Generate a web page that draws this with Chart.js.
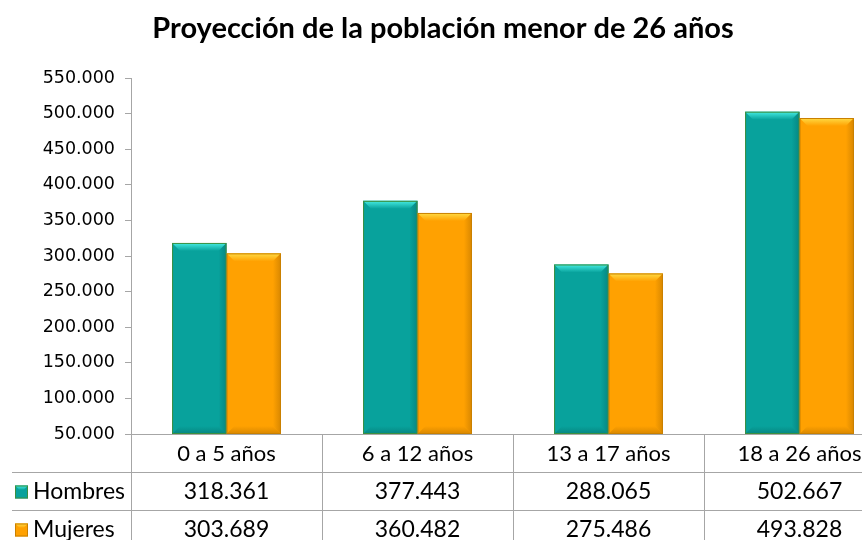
<!DOCTYPE html>
<html>
<head>
<meta charset="utf-8">
<script src="https://cdn.jsdelivr.net/npm/chart.js@4"></script>
<style>
    body { margin: 0; background: #fff; overflow: hidden; }
    #wrap { width: 900px; height: 550px; }
</style>
</head>
<body>
<div id="wrap"><canvas id="chart" width="900" height="550"></canvas></div>
<script>
// datos del gráfico
const titulo = 'Proyección de la población menor de 26 años';
const categorias = ['0 a 5 años', '6 a 12 años', '13 a 17 años', '18 a 26 años'];
const series = ['Hombres', 'Mujeres'];
const hombres = [318361, 377443, 288065, 502667];
const mujeres = [303689, 360482, 275486, 493828];
const yMin = 50000;
const yMax = 550000;
const yPaso = 50000;

// colores
const colores = {
    Hombres: { fill: '#08a29c', border: '#3c8f40', light: '#45ece2', dark: '#05706c' },
    Mujeres: { fill: '#ffa101', border: '#c98000', light: '#ffdc45', dark: '#b87200' }
};
const lineColor = '#a6a6a6';

// separador de miles con punto
function formatNum(n) {
    return String(n).replace(/\B(?=(\d{3})+(?!\d))/g, '.');
}

// bisel de las barras
const bevelPlugin = {
    id: 'bevel',
    afterDatasetsDraw(chart) {
        const ctx = chart.ctx;
        const area = chart.chartArea;
        chart.data.datasets.forEach((ds, di) => {
            const c = colores[ds.label];
            chart.getDatasetMeta(di).data.forEach(bar => {
                const l = bar.x - bar.width / 2, r = bar.x + bar.width / 2;
                const t = bar.y, b = Math.min(bar.base, area.bottom);
                const k = 8;
                ctx.save();
                // cara superior
                let g = ctx.createLinearGradient(0, t, 0, t + k);
                g.addColorStop(0, c.light);
                g.addColorStop(1, c.fill);
                ctx.fillStyle = g;
                ctx.beginPath();
                ctx.moveTo(l, t); ctx.lineTo(r, t); ctx.lineTo(r - k, t + k); ctx.lineTo(l + k, t + k);
                ctx.closePath(); ctx.fill();
                // lado derecho
                g = ctx.createLinearGradient(r - k, 0, r, 0);
                g.addColorStop(0, c.fill);
                g.addColorStop(1, c.dark);
                ctx.globalAlpha = 0.55;
                ctx.fillStyle = g;
                ctx.beginPath();
                ctx.moveTo(r, t); ctx.lineTo(r, b); ctx.lineTo(r - k, b - k); ctx.lineTo(r - k, t + k);
                ctx.closePath(); ctx.fill();
                // lado inferior
                g = ctx.createLinearGradient(0, b - k, 0, b);
                g.addColorStop(0, c.fill);
                g.addColorStop(1, c.dark);
                ctx.fillStyle = g;
                ctx.beginPath();
                ctx.moveTo(l, b); ctx.lineTo(r, b); ctx.lineTo(r - k, b - k); ctx.lineTo(l + k, b - k);
                ctx.closePath(); ctx.fill();
                ctx.globalAlpha = 1;
                ctx.strokeStyle = c.border;
                ctx.lineWidth = 1;
                ctx.strokeRect(l + 0.5, t + 0.5, bar.width - 1, b - t - 1);
                ctx.restore();
            });
        });
    }
};

// título y tabla de datos
const tablaPlugin = {
    id: 'tabla',
    afterDraw(chart) {
        const ctx = chart.ctx;
        const area = chart.chartArea;
        const x = chart.scales.x;
        const colW = (area.right - area.left) / categorias.length;
        const rowH = 38;
        const y0 = area.bottom;

        ctx.save();
        // título
        ctx.fillStyle = '#000';
        ctx.font = 'bold 29px Lato';
        ctx.textAlign = 'center';
        ctx.textBaseline = 'middle';
        ctx.fillText(titulo, 443, 29);

        // líneas
        ctx.strokeStyle = lineColor;
        ctx.lineWidth = 1;
        ctx.beginPath();
        for (let r = 1; r <= 3; r++) {
            const yy = Math.round(y0 + r * rowH) + 0.5;
            ctx.moveTo(12, yy); ctx.lineTo(chart.width, yy);
        }
        for (let i = 0; i <= categorias.length; i++) {
            const xx = Math.round(area.left + i * colW) + 0.5;
            ctx.moveTo(xx, y0); ctx.lineTo(xx, y0 + 3 * rowH);
        }
        ctx.stroke();

        // categorías
        ctx.fillStyle = '#000';
        ctx.font = '22px Lato';
        categorias.forEach((cat, i) => {
            ctx.fillText(cat, x.getPixelForValue(i), y0 + rowH / 2 + 1);
        });

        // filas de valores
        const filas = [hombres, mujeres];
        filas.forEach((vals, r) => {
            const yy = y0 + rowH * (r + 1) + rowH / 2 + 1;
            ctx.font = '23px Lato';
            ctx.textAlign = 'center';
            vals.forEach((v, i) => ctx.fillText(formatNum(v), x.getPixelForValue(i), yy));
            // leyenda
            const c = colores[series[r]];
            const s = 13, lx = 15, ly = yy - s / 2;
            ctx.fillStyle = c.fill;
            ctx.fillRect(lx, ly, s, s);
            const g = ctx.createLinearGradient(0, ly, 0, ly + 5);
            g.addColorStop(0, c.light); g.addColorStop(1, c.fill);
            ctx.fillStyle = g;
            ctx.beginPath();
            ctx.moveTo(lx, ly); ctx.lineTo(lx + s, ly); ctx.lineTo(lx + s - 4, ly + 4); ctx.lineTo(lx + 4, ly + 4);
            ctx.closePath(); ctx.fill();
            ctx.strokeStyle = c.border;
            ctx.strokeRect(lx + 0.5, ly + 0.5, s - 1, s - 1);
            ctx.fillStyle = '#000';
            ctx.textAlign = 'left';
            ctx.font = '23px Lato';
            ctx.fillText(series[r], 33, yy);
        });
        ctx.restore();
    }
};

new Chart(document.getElementById('chart'), {
    type: 'bar',
    data: {
        labels: categorias,
        datasets: [
            { label: series[0], data: hombres, backgroundColor: colores.Hombres.fill },
            { label: series[1], data: mujeres, backgroundColor: colores.Mujeres.fill }
        ]
    },
    options: {
        responsive: false,
        animation: false,
        layout: { padding: { top: 78, right: 5, left: 0, bottom: 0 } },
        datasets: { bar: { categoryPercentage: 0.57, barPercentage: 1 } },
        plugins: {
            legend: { display: false },
            title: { display: false },
            tooltip: { enabled: false }
        },
        scales: {
            x: {
                ticks: { display: false },
                grid: { display: false },
                border: { display: true, color: lineColor },
                afterFit: s => { s.height = 116; }
            },
            y: {
                min: yMin,
                max: yMax,
                ticks: {
                    stepSize: yPaso,
                    color: '#000',
                    padding: 10,
                    font: { family: 'DejaVu Sans', size: 17.5 },
                    callback: v => formatNum(v)
                },
                grid: { drawOnChartArea: false, tickLength: 6, color: lineColor },
                border: { color: lineColor },
                afterFit: s => { s.width = 131; }
            }
        }
    },
    plugins: [bevelPlugin, tablaPlugin]
});
</script>
</body>
</html>
